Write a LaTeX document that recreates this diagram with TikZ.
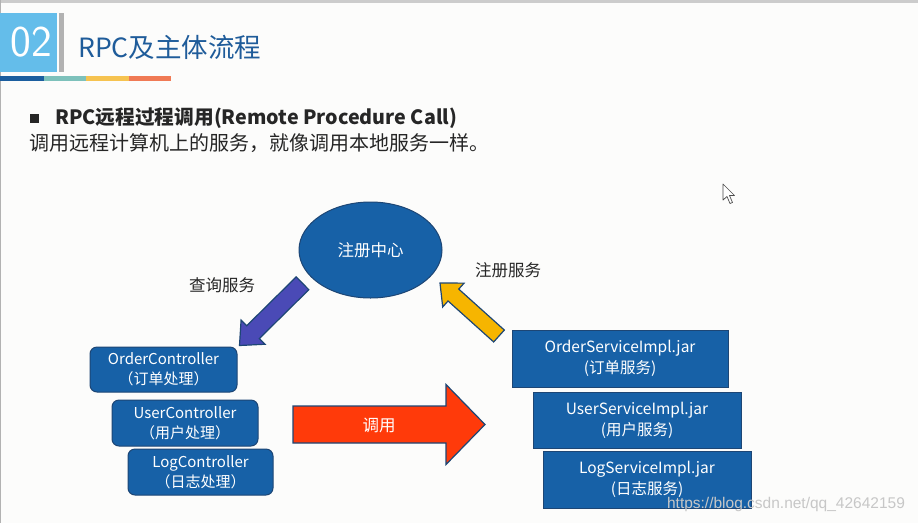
\documentclass[tikz,border=0pt]{standalone}
\usepackage{fontspec}
\setmainfont{Noto Sans CJK SC}
\newfontfamily\wmfont{Liberation Sans}
\usetikzlibrary{calc,shapes.geometric}
\definecolor{bgc}{HTML}{FCFCFB}
\definecolor{boxblue}{HTML}{1761A7}
\definecolor{boxedge}{HTML}{1D4675}
\definecolor{titleblue}{HTML}{1F5C9A}
\definecolor{numblue}{HTML}{64BDEA}
\definecolor{qblue}{HTML}{4A4AB6}
\definecolor{ryellow}{HTML}{F6B500}
\definecolor{cred}{HTML}{FF3A0A}
\definecolor{sDark}{HTML}{1B5E9F}
\definecolor{sTeal}{HTML}{7DC1BB}
\definecolor{sYel}{HTML}{F6C350}
\definecolor{sOra}{HTML}{F07A55}
\definecolor{txt}{HTML}{262626}
\newcommand\blockarrow[6]{%
  \path (#3) coordinate (ba-tip) ($(#3)!#6!(#2)$) coordinate (ba-hb);
  \draw[#1] ($(#2)!#4!90:(#3)$) -- ($(ba-hb)!#4!-90:(#2)$) -- ($(ba-hb)!#5!-90:(#2)$)
    -- (ba-tip) -- ($(ba-hb)!#5!90:(#2)$) -- ($(ba-hb)!#4!90:(#2)$)
    -- ($(#2)!#4!-90:(#3)$) -- cycle;}
\tikzset{
  ctrlbox/.style={draw=boxedge, line width=1pt, fill=boxblue, rounded corners=7pt,
    text=white, align=center, font=\fontsize{15}{20}\selectfont, inner sep=0pt},
  implbox/.style={draw=boxedge, line width=1pt, fill=boxblue,
    text=white, align=center, font=\fontsize{15.5}{21}\selectfont, inner sep=0pt},
  lbl/.style={text=txt, font=\fontsize{16.5}{18}\selectfont, inner sep=0pt},
  fatarrow/.style={line width=1.2pt, line join=miter}
}
\begin{document}
\begin{tikzpicture}[x=1pt,y=-1pt]
\fill[bgc] (0,0) rectangle (918,523);
\useasboundingbox (0,0) rectangle (918,523);
% frame lines
\fill[black!20] (0,0) rectangle (918,3);
\fill[black!30] (0,0) rectangle (1,523);
% header
\fill[numblue] (0,13) rectangle (57,72);
\node[text=white, font=\sffamily\fontsize{44}{44}\selectfont, inner sep=0pt] (num) at (31,42) {02};
\fill[black!30] (59,13) rectangle (64,72);
\node[anchor=west, text=titleblue, font=\fontsize{26.5}{30}\selectfont, inner sep=0pt] (title) at (78,47) {RPC及主体流程};
\fill[sDark] (0,76) rectangle (44,81);
\fill[sTeal] (44,76) rectangle (86,81);
\fill[sYel] (86,76) rectangle (129,81);
\fill[sOra] (129,76) rectangle (171,81);
% bullet text
\fill[txt] (30,113.5) rectangle (39,122.5);
\node[anchor=west, text=txt, font=\bfseries\fontsize{19.7}{22}\selectfont, inner sep=0pt] (head) at (55,118) {RPC远程过程调用(Remote Procedure Call)};
\node[anchor=west, text=txt, font=\fontsize{20}{22}\selectfont, inner sep=0pt] (sub) at (29,143) {调用远程计算机上的服务，就像调用本地服务一样。};
% registry
\node[ellipse, draw=boxedge, line width=1pt, fill=boxblue, minimum width=143pt, minimum height=96pt,
  text=white, font=\fontsize{16.5}{18}\selectfont] (reg) at (370.5,250) {注册中心};
\node[lbl] (query) at (222,285) {查询服务};
\node[lbl] (regsvc) at (508,270) {注册服务};
% controllers
\node[ctrlbox, minimum width=147pt, minimum height=45pt] (oc) at (163.5,369.5) {OrderController\\（订单处理）};
\node[ctrlbox, minimum width=146pt, minimum height=46pt] (uc) at (185,423) {UserController\\（用户处理）};
\node[ctrlbox, minimum width=145pt, minimum height=46pt] (lc) at (200.5,472) {LogController\\（日志处理）};
% services
\node[implbox, minimum width=216pt, minimum height=57pt] (os) at (620,358.5) {OrderServiceImpl.jar\\(订单服务)};
\node[implbox, minimum width=208pt, minimum height=56pt] (us) at (637,420) {UserServiceImpl.jar\\(用户服务)};
\node[implbox, minimum width=208pt, minimum height=57pt] (ls) at (647,479.5) {LogServiceImpl.jar\\(日志服务)};
% arrows
\coordinate (qtail) at (302.5,283.3);
\coordinate (qtip) at (239.5,345.5);
\blockarrow{fatarrow, fill=qblue, draw=boxedge}{qtail}{qtip}{9pt}{17pt}{19pt}
\coordinate (rtail) at (499,336);
\coordinate (rtip) at (440,283);
\blockarrow{fatarrow, fill=ryellow, draw=boxedge}{rtail}{rtip}{8pt}{16pt}{18pt}
\coordinate (ctail) at (293,424.5);
\coordinate (ctip) at (485,424.5);
\blockarrow{fatarrow, fill=cred, draw=boxedge}{ctail}{ctip}{18.5pt}{40pt}{39pt}
\node[text=white, font=\fontsize{16.5}{18}\selectfont, inner sep=0pt] (call) at (379,425) {调用};
% cursor
\draw[black!70, fill=white, line width=0.7pt, line join=round]
  (723,184) -- (723,200) -- (727,196.5) -- (730,203.5) -- (732.5,202.5) -- (729.5,195.5) -- (734.5,195.5) -- cycle;
% watermark
\node[text=black!22, font=\wmfont\fontsize{15.5}{17}\selectfont, inner sep=0pt] (wm) at (786,504) {https://blog.csdn.net/qq\_42642159};
\end{tikzpicture}
\end{document}
